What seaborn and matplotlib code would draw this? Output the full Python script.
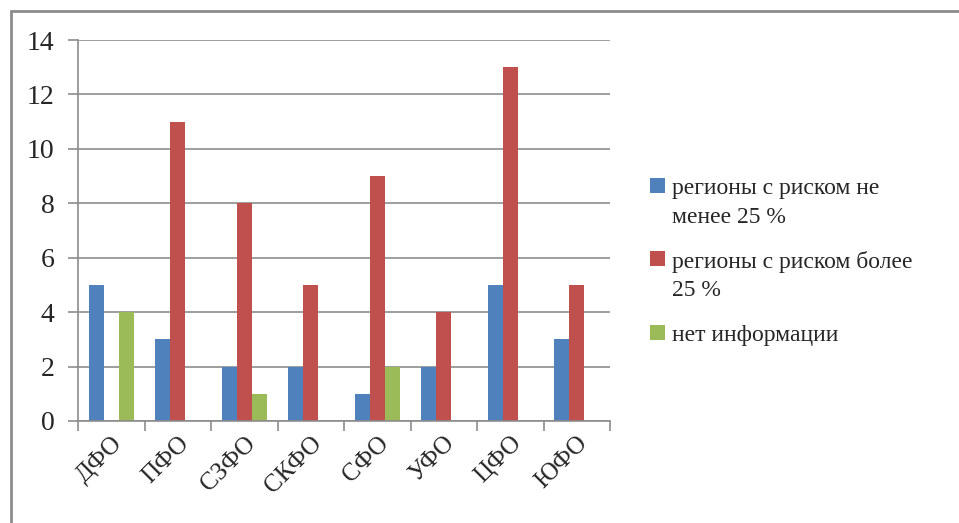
import matplotlib
matplotlib.use("Agg")
import matplotlib.pyplot as plt
import seaborn as sns
import pandas as pd
from matplotlib.patches import Rectangle

categories = ["ДФО", "ПФО", "СЗФО", "СКФО", "СФО", "УФО", "ЦФО", "ЮФО"]
series_names = ["регионы с риском не\nменее 25 %", "регионы с риском более\n25 %", "нет информации"]
risk_not_less_25 = [5, 3, 2, 2, 1, 2, 5, 3]
risk_more_25 = [0, 11, 8, 5, 9, 4, 13, 5]
no_info = [4, 0, 1, 0, 2, 0, 0, 0]
colors = ["#4F81BD", "#C0504D", "#9BBB59"]
yticks = [0, 2, 4, 6, 8, 10, 12, 14]

rows = []
for name, vals in zip(series_names, [risk_not_less_25, risk_more_25, no_info]):
    for c, v in zip(categories, vals):
        rows.append({"cat": c, "series": name, "value": v})
df = pd.DataFrame(rows)

sns.set_theme(style="white")
plt.rcParams["font.family"] = ["Liberation Serif", "DejaVu Serif"]

fig = plt.figure(figsize=(9.59, 5.23), dpi=100)
ax = fig.add_axes([78 / 959, 1 - 421 / 523, (610 - 78) / 959, (421 - 40) / 523])

sns.barplot(data=df, x="cat", y="value", hue="series", order=categories,
            hue_order=series_names, palette=colors, width=0.68, dodge=True,
            saturation=1, ax=ax, legend=True, errorbar=None, linewidth=0)

ax.set_ylim(0, 14)
ax.set_xlim(-0.5, len(categories) - 0.5)
ax.set_yticks(yticks)
ax.set_yticklabels([str(v) for v in yticks], fontsize=20)
ax.yaxis.grid(True, color="#8C8C8C", linewidth=1.2)
ax.set_axisbelow(True)
ax.set_xlabel("")
ax.set_ylabel("")

for s in ["top", "right"]:
    ax.spines[s].set_visible(False)
for s in ["left", "bottom"]:
    ax.spines[s].set_color("#8C8C8C")
    ax.spines[s].set_linewidth(1.2)

ax.tick_params(axis="y", which="major", length=7, color="#8C8C8C", width=1.2,
               left=True, pad=10)
# category boundary ticks
ax.set_xticks([i - 0.5 for i in range(len(categories) + 1)], minor=True)
ax.tick_params(axis="x", which="minor", length=7, color="#8C8C8C", width=1.2, bottom=True)
ax.tick_params(axis="x", which="major", length=0, pad=8)
ax.set_xticks(range(len(categories)))
ax.set_xticklabels(categories, rotation=45, ha="right", rotation_mode="anchor", fontsize=18)

handles, labels = ax.get_legend_handles_labels()
ax.legend_.remove()
leg = fig.legend(handles, labels, loc="upper left", bbox_to_anchor=(641 / 959, 1 - 169 / 523),
                 frameon=False, fontsize=17, handlelength=0.6, handleheight=0.6,
                 handletextpad=0.3, labelspacing=1.0, borderaxespad=0)
for t in leg.get_texts():
    t.set_linespacing(1.45)
for col in leg._legend_handle_box.get_children():
    for item in col.get_children():
        item.align = "top"

fig.patches.append(Rectangle((11 / 959, -0.1), 1.2, 1 - 11 / 523 + 0.1,
                             transform=fig.transFigure, fill=False,
                             edgecolor="#8C8C8C", linewidth=2))

fig.savefig("out.png", dpi=100)
